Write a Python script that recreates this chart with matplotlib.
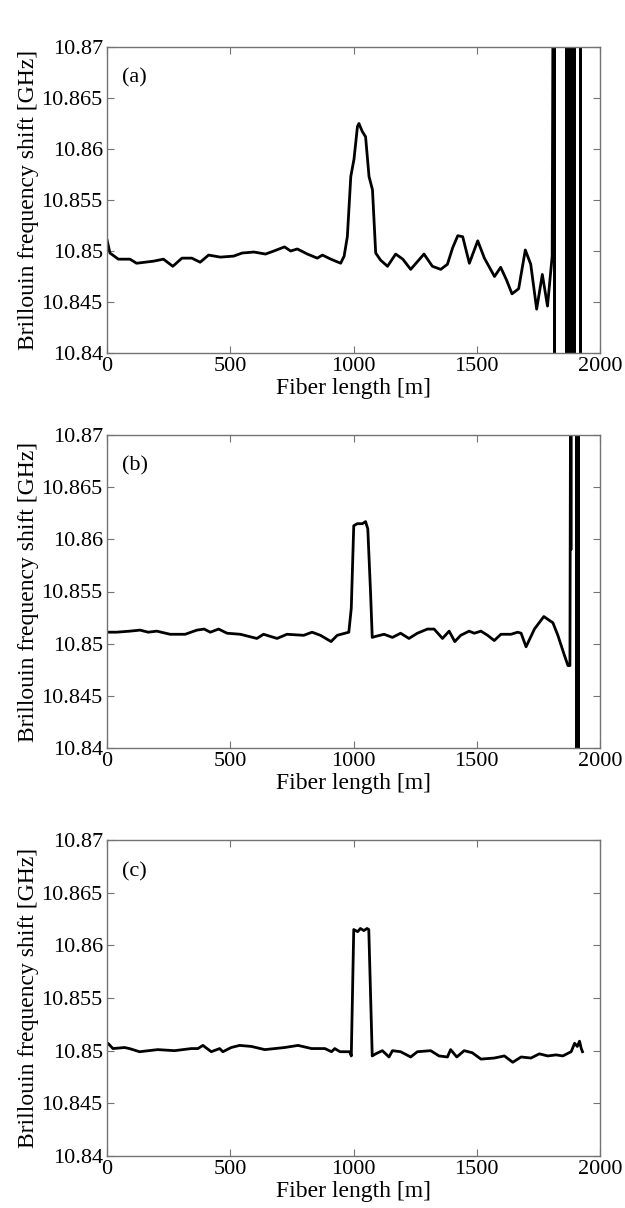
import matplotlib
matplotlib.use("Agg")
import matplotlib.pyplot as plt

# ---------------- data ----------------
a_x = [0, 12, 46, 93, 120, 188, 229, 267, 304, 344, 378, 412, 460, 514, 548, 596, 643, 677, 720, 745,
       772, 813, 853, 874, 908, 948, 962, 975, 989, 1002, 1016, 1022, 1036, 1049, 1063, 1077, 1090, 1110,
       1138, 1171, 1200, 1232, 1286, 1320, 1354, 1381, 1402, 1423, 1443, 1470, 1504, 1531, 1572, 1597,
       1620, 1643, 1670, 1697, 1719, 1743, 1766, 1787, 1806, 1810]
a_y = [10.8511, 10.8498, 10.8492, 10.8492, 10.8488, 10.8490, 10.8492, 10.8485, 10.8493, 10.8493,
       10.8489, 10.8496, 10.8494, 10.8495, 10.8498, 10.8499, 10.8497, 10.8500, 10.8504, 10.8500,
       10.8502, 10.8497, 10.8493, 10.8496, 10.8492, 10.8488, 10.8495, 10.8514, 10.8573, 10.8590,
       10.8622, 10.8625, 10.8617, 10.8612, 10.8573, 10.8560, 10.8498, 10.8491, 10.8485, 10.8497,
       10.8492, 10.8482, 10.8497, 10.8485, 10.8482, 10.8487, 10.8503, 10.8515, 10.8514, 10.8488,
       10.8510, 10.8493, 10.8475, 10.8484, 10.8472, 10.8458, 10.8463, 10.8501, 10.8487, 10.8443,
       10.8477, 10.8446, 10.8495, 10.880]
a_bands = [(1808, 1820), (1857, 1903), (1914, 1925)]

b_x = [0, 39, 93, 134, 167, 202, 256, 317, 365, 394, 419, 453, 487, 541, 608, 635, 690, 730, 798, 832,
       866, 909, 934, 981, 991, 1001, 1015, 1036, 1049, 1058, 1069, 1076, 1090, 1124, 1158, 1191, 1225,
       1259, 1300, 1327, 1361, 1388, 1411, 1435, 1469, 1490, 1517, 1544, 1571, 1598, 1639, 1666, 1680,
       1700, 1734, 1772, 1809, 1829, 1854, 1870, 1878, 1881, 1882, 1883]
b_y = [10.8511, 10.8511, 10.8512, 10.8513, 10.8511, 10.8512, 10.8509, 10.8509, 10.8513, 10.8514,
       10.8511, 10.8514, 10.8510, 10.8509, 10.8505, 10.8509, 10.8505, 10.8509, 10.8508, 10.8511,
       10.8508, 10.8502, 10.8508, 10.8511, 10.8534, 10.8613, 10.8615, 10.8615, 10.8617, 10.8610,
       10.8550, 10.8506, 10.8507, 10.8509, 10.8506, 10.8510, 10.8505, 10.8510, 10.8514, 10.8514,
       10.8505, 10.8512, 10.8502, 10.8508, 10.8512, 10.8510, 10.8512, 10.8508, 10.8503, 10.8509,
       10.8509, 10.8511, 10.8510, 10.8497, 10.8514, 10.8526, 10.8520, 10.8508, 10.8490, 10.8479,
       10.8479, 10.880, 10.859, 10.880]
b_bands = [(1900, 1919)]

c_x = [0, 4, 24, 71, 91, 132, 206, 274, 342, 369, 389, 423, 457, 470, 504, 538, 586, 640, 681, 721,
       775, 830, 884, 911, 924, 945, 985, 991, 1001, 1017, 1028, 1042, 1055, 1062, 1076, 1090, 1117,
       1144, 1158, 1191, 1232, 1259, 1313, 1347, 1381, 1394, 1419, 1449, 1482, 1517, 1571, 1612, 1646,
       1680, 1720, 1754, 1788, 1822, 1849, 1883, 1897, 1908, 1917, 1924, 1929]
c_y = [10.8506, 10.8507, 10.8502, 10.8503, 10.8502, 10.8499, 10.8501, 10.8500, 10.8502, 10.8502,
       10.8505, 10.8499, 10.8502, 10.8499, 10.8503, 10.8505, 10.8504, 10.8501, 10.8502, 10.8503,
       10.8505, 10.8502, 10.8502, 10.8499, 10.8502, 10.8499, 10.8499, 10.8495, 10.8615, 10.8613,
       10.8616, 10.8614, 10.8616, 10.8615, 10.8495, 10.8497, 10.8500, 10.8494, 10.8500, 10.8499,
       10.8494, 10.8499, 10.8500, 10.8495, 10.8494, 10.8501, 10.8494, 10.8500, 10.8498, 10.8492,
       10.8493, 10.8495, 10.8489, 10.8494, 10.8493, 10.8497, 10.8495, 10.8496, 10.8495, 10.8499,
       10.8507, 10.8504, 10.8509, 10.8502, 10.8499]
c_bands = []

panel_labels = ["(a)", "(b)", "(c)"]
x_ticks = [0, 500, 1000, 1500, 2000]
x_ticklabels = ["0", "500", "1000", "1500", "2000"]
y_ticks = [10.84, 10.845, 10.85, 10.855, 10.86, 10.865, 10.87]
y_ticklabels = ["10.84", "10.845", "10.85", "10.855", "10.86", "10.865", "10.87"]
x_label = "Fiber length [m]"
y_label = "Brillouin frequency shift [GHz]"

# ---------------- figure ----------------
plt.rcParams["font.family"] = ["Liberation Serif", "DejaVu Serif"]
plt.rcParams["mathtext.fontset"] = "stix"

W, H = 625, 1208
fig = plt.figure(figsize=(W / 100, H / 100), dpi=100)

# axes boxes in pixels: (left, top, right, bottom)
boxes = [(107, 47, 600, 353), (107, 435, 600, 748), (107, 840, 600, 1156)]
series = [(a_x, a_y, a_bands), (b_x, b_y, b_bands), (c_x, c_y, c_bands)]

spine_col = "0.45"
for (l, t, r, b), (xs, ys, bands), lab in zip(boxes, series, panel_labels):
    ax = fig.add_axes([l / W, 1 - b / H, (r - l) / W, (b - t) / H])
    ax.plot(xs, ys, color="black", lw=2.0, solid_joinstyle="round")
    for lo, hi in bands:
        ax.axvspan(lo, hi, color="black", lw=0)
    ax.set_xlim(0, 2000)
    ax.set_ylim(10.84, 10.87)
    ax.set_xticks(x_ticks)
    ax.set_xticklabels(x_ticklabels)
    ax.set_yticks(y_ticks)
    ax.set_yticklabels(y_ticklabels)
    ax.tick_params(direction="in", length=5, width=0.8, color=spine_col,
                   top=True, right=True, labelsize=16, pad=3)
    for s in ax.spines.values():
        s.set_color(spine_col)
        s.set_linewidth(1.0)
    ax.set_xlabel(x_label, fontsize=17, labelpad=1)
    ax.set_ylabel(y_label, fontsize=17, labelpad=2)
    ax.text(0.03, 0.9, lab, transform=ax.transAxes, fontsize=16, va="center", ha="left")

fig.savefig("out.png", dpi=100)
